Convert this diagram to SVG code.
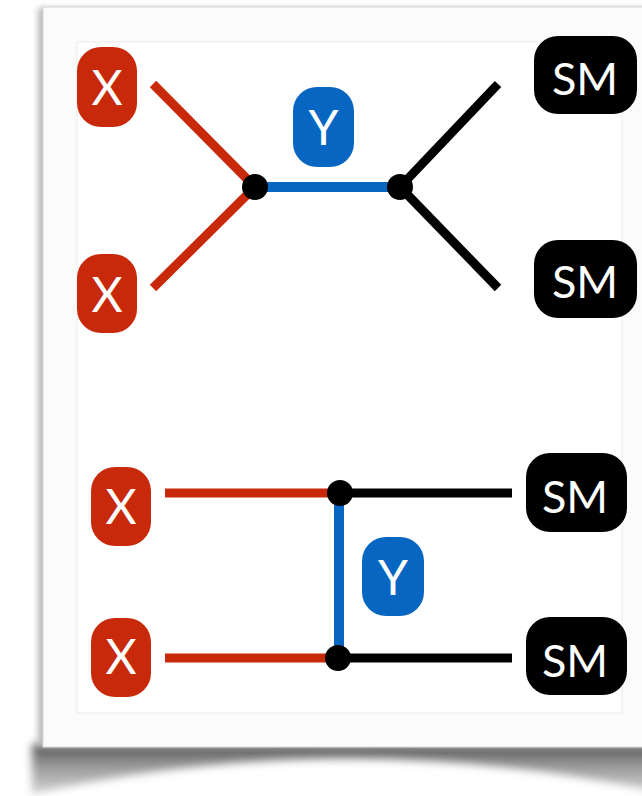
<svg xmlns="http://www.w3.org/2000/svg" width="642" height="796" viewBox="0 0 642 796">
  <defs>
    <filter id="soft" x="-20%" y="-50%" width="140%" height="200%">
      <feGaussianBlur stdDeviation="4"/>
    </filter>
    <filter id="edge" x="-10%" y="-10%" width="120%" height="120%">
      <feGaussianBlur stdDeviation="3"/>
    </filter>
    <linearGradient id="curlShade" x1="0" y1="0" x2="0" y2="1">
      <stop offset="0" stop-color="#555555"/>
      <stop offset="0.45" stop-color="#9a9a9a"/>
      <stop offset="1" stop-color="#d4d4d4"/>
    </linearGradient>
    <style>
      .x { fill: #c8290b; }
      .y { fill: #0766c1; }
      .sm { fill: #000000; }
      .lbl { fill: #ffffff; font-family: Lato, "Open Sans", "DejaVu Sans", sans-serif; text-anchor: middle; }
      .big { font-size: 48px; }
      .mid { font-size: 45px; }
      .red { stroke: #c8290b; stroke-width: 9; fill: none; }
      .blue { stroke: #0766c1; stroke-width: 10; fill: none; }
      .blk { stroke: #000000; stroke-width: 9; fill: none; }
      .dot { fill: #000000; }
    </style>
  </defs>

  <rect width="642" height="796" fill="#ffffff"/>

  <!-- curled page shadow under the card -->
  <path d="M 32 744 L 660 744 L 660 792 Q 340 724 32 794 Z" fill="url(#curlShade)" filter="url(#soft)"/>
  <!-- soft edge shadow round the card -->
  <rect x="38" y="8" width="620" height="738" fill="#b8b8b8" filter="url(#edge)"/>

  <!-- card and inner panel -->
  <rect x="43" y="7" width="620" height="740" fill="#fbfbfb" stroke="#d8d8d8" stroke-width="1"/>
  <rect x="77" y="42" width="545" height="671" fill="#ffffff" stroke="#ececec" stroke-width="1"/>

  <!-- connectors -->
  <g id="connectors">
    <line class="red" x1="153" y1="84" x2="255" y2="187"/>
    <line class="red" x1="153" y1="288" x2="255" y2="187"/>
    <line class="blue" x1="255" y1="187" x2="400" y2="187"/>
    <line class="blk" x1="400" y1="187" x2="498" y2="84"/>
    <line class="blk" x1="400" y1="187" x2="498" y2="288"/>
    <circle class="dot" cx="255" cy="187" r="13"/>
    <circle class="dot" cx="400" cy="187" r="13"/>

    <line class="red" x1="165" y1="493" x2="339" y2="493"/>
    <line class="red" x1="165" y1="658" x2="339" y2="658"/>
    <line class="blue" x1="339" y1="493" x2="339" y2="658"/>
    <line class="blk" x1="339" y1="493" x2="512" y2="493"/>
    <line class="blk" x1="339" y1="658" x2="512" y2="658"/>
    <circle class="dot" cx="340" cy="493" r="13"/>
    <circle class="dot" cx="338" cy="658" r="13"/>
  </g>

  <!-- upper diagram -->
  <g id="x1">
    <rect class="x" x="77" y="47" width="60" height="80" rx="24"/>
    <text class="lbl big" x="107" y="105">X</text>
  </g>
  <g id="x2">
    <rect class="x" x="77" y="254" width="60" height="79" rx="24"/>
    <text class="lbl big" x="107" y="312">X</text>
  </g>
  <g id="y1">
    <rect class="y" x="293" y="87" width="61" height="80" rx="24"/>
    <text class="lbl big" x="323.5" y="145">Y</text>
  </g>
  <g id="sm1">
    <rect class="sm" x="534" y="36" width="103" height="78" rx="24"/>
    <text class="lbl mid" x="585" y="95">SM</text>
  </g>
  <g id="sm2">
    <rect class="sm" x="534" y="240" width="103" height="78" rx="24"/>
    <text class="lbl mid" x="585" y="298">SM</text>
  </g>

  <!-- lower diagram -->
  <g id="x3">
    <rect class="x" x="91" y="467" width="60" height="79" rx="24"/>
    <text class="lbl big" x="121" y="524">X</text>
  </g>
  <g id="x4">
    <rect class="x" x="91" y="618" width="60" height="79" rx="24"/>
    <text class="lbl big" x="121" y="674">X</text>
  </g>
  <g id="y2">
    <rect class="y" x="362" y="537" width="62" height="79" rx="24"/>
    <text class="lbl big" x="393" y="595">Y</text>
  </g>
  <g id="sm3">
    <rect class="sm" x="526" y="453" width="101" height="79" rx="24"/>
    <text class="lbl mid" x="575" y="513">SM</text>
  </g>
  <g id="sm4">
    <rect class="sm" x="526" y="617" width="101" height="78" rx="24"/>
    <text class="lbl mid" x="575" y="677">SM</text>
  </g>
</svg>
